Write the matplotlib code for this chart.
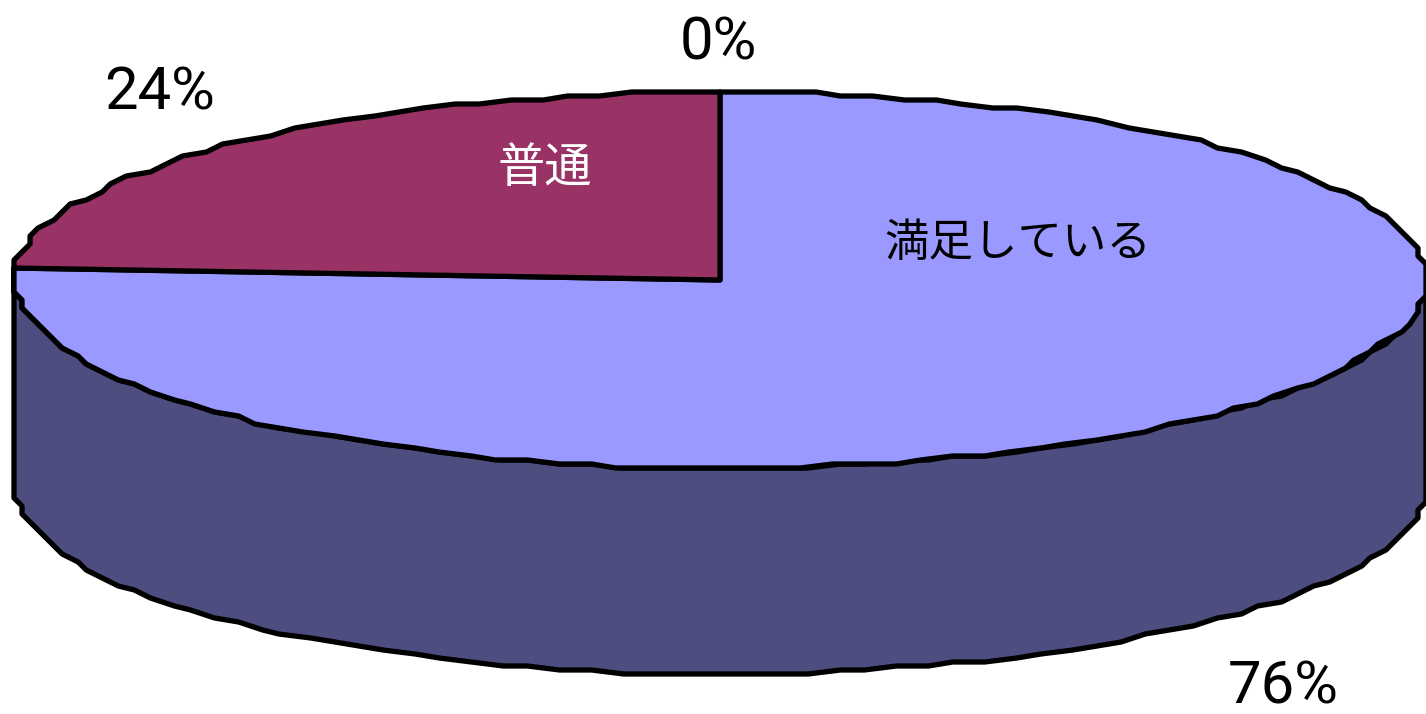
import numpy as np
import matplotlib
matplotlib.use("Agg")
import matplotlib.pyplot as plt
from matplotlib.patches import Polygon

# data
categories = ["満足している", "普通", ""]
values = [76, 24, 0]
percent_labels = ["76%", "24%", "0%"]
face_colors = ["#9999ff", "#993366", "#ffffcc"]
side_color = "#4d4d7f"

cx, cy = 720, 280
rx, ry = 706, 188
depth = 206
grid_x = rx / 88
grid_y = 4    # the original edge is a coarse polygon, so snap the rim
step = 2.5    # degrees between rim vertices


def rim(t0, t1):
    # t measured clockwise from the top of the pie, in degrees
    n = max(int(round((t1 - t0) / step)), 1) + 1
    t = np.radians(np.linspace(t0, t1, n))
    dx = rx * np.sin(t)
    dy = ry * np.cos(t)
    x = cx + np.round(dx / grid_x) * grid_x
    y = cy - np.round(dy / grid_y) * grid_y
    return np.column_stack([x, y])


fig = plt.figure(figsize=(14.26, 7.14), dpi=100)
ax = fig.add_axes([0, 0, 1, 1])
ax.set_xlim(0, 1426)
ax.set_ylim(714, 0)
ax.axis("off")

# top faces go clockwise from 12 o'clock, the first slice also has the wall
angles = np.cumsum([0] + values) * 3.6
front = rim(90, angles[1])
wall = np.vstack([front, front[::-1] + [0, depth]])
ax.add_patch(Polygon(wall, closed=True, fc=side_color, ec="black", lw=3.8, joinstyle="round"))

for i, (val, col) in enumerate(zip(values, face_colors)):
    if val == 0:
        continue
    pts = np.vstack([[cx, cy], rim(angles[i], angles[i + 1])])
    ax.add_patch(Polygon(pts, closed=True, fc=col, ec="black", lw=3.8, joinstyle="round"))

jp = ["Noto Sans CJK JP", "DejaVu Sans"]
ax.text(1018, 243, categories[0], fontsize=32, family=jp, color="black", ha="center", va="center")
ax.text(545, 169, categories[1], fontsize=34, family=jp, color="white", ha="center", va="center")
ax.text(1283, 687, percent_labels[0], fontsize=43, family="Roboto", ha="center", va="center")
ax.text(160, 93, percent_labels[1], fontsize=43, family="Roboto", ha="center", va="center")
ax.text(718, 43, percent_labels[2], fontsize=43, family="Roboto", ha="center", va="center")

fig.savefig("out.png", dpi=100)
